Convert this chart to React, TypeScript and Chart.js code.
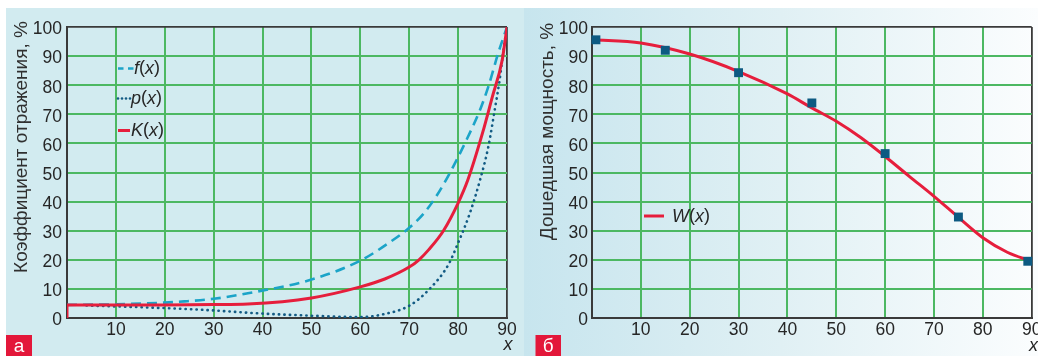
import React, { useEffect, useRef } from 'react';
import { Chart, registerables } from 'chart.js';
Chart.register(...registerables);

// ---- data ----
const xTickStep = 10;
const xMax = 90;
const yMax = 100;
const yTickStep = 10;

// panel а
const kX = [0, 0, 10, 20, 30, 37, 50, 60, 65, 70, 72, 74, 77, 80, 82, 85, 87, 89, 90];
const kY = [0, 4.5, 4.5, 4.5, 4.6, 4.8, 6.9, 10.7, 13.4, 17.5, 20.0, 23.5, 30.0, 39.5, 47.5, 63.6, 76.0, 88.5, 100];
const fX = [0, 10, 20, 24, 30, 37, 50, 60, 66, 70, 73, 75.6, 78.3, 81.4, 84.5, 86.2, 88.2, 90];
const fY = [4.5, 4.7, 5.3, 5.7, 6.6, 8.5, 13.2, 19.7, 26.0, 31.0, 36.0, 42.0, 49.8, 60.1, 71.6, 79.6, 91, 100];
const pX = [4, 20, 30, 38, 50, 60, 65, 70, 74, 78, 80, 82.4, 84.5, 86.2, 87.5, 88.5, 89.2, 90];
const pY = [4.3, 3.4, 2.6, 1.7, 0.8, 0.3, 1.4, 4.2, 9.7, 18.3, 25.8, 36, 47.5, 59, 71.6, 81.9, 91, 100];

// panel б
const wX = [0, 10, 20, 30, 40, 45, 50, 55, 60, 65, 70, 75, 80, 85, 90];
const wY = [95.6, 94.5, 90.7, 84.7, 77, 72.2, 67.6, 62.0, 55.5, 48.6, 41.8, 34.6, 27.6, 22.6, 19.5];
const wPtX = [0.8, 15, 30, 45, 60, 75, 89.2];
const wPtY = [95.6, 92, 84.3, 73.9, 56.5, 34.7, 19.5];

const leftTitle = 'Коэффициент отражения, %';
const rightTitle = 'Дошедшая мощность, %';

const FONT = '"Liberation Sans", Arial, Helvetica, sans-serif';
const RED = '#e61e3c';
const CYAN = '#1ba4c8';
const DOT = '#135b84';
const SQ = '#0d5a82';
const GRID = '#4cb862';
const FRAME = '#3a3a3a';
const TXT = '#262626';

const pts = (xs: number[], ys: number[]) => xs.map((x, i) => ({ x, y: ys[i] }));

function richLabel(ctx: CanvasRenderingContext2D, x: number, y: number, letter: string, size: number) {
  const it = `italic ${size}px ${FONT}`;
  const up = `${size}px ${FONT}`;
  const parts: [string, string][] = [[letter, it], ['(', up], ['x', it], [')', up]];
  let cx = x;
  ctx.textAlign = 'left';
  ctx.textBaseline = 'middle';
  ctx.fillStyle = TXT;
  for (const [t, f] of parts) {
    ctx.font = f;
    ctx.fillText(t, cx, y);
    cx += ctx.measureText(t).width;
  }
}

function vTitle(ctx: CanvasRenderingContext2D, text: string, cx: number, yTop: number, yBottom: number) {
  const target = yBottom - yTop;
  ctx.font = `17px ${FONT}`;
  const w = ctx.measureText(text).width;
  const size = Math.min(19, (17 * target) / w);
  ctx.save();
  ctx.translate(cx, (yTop + yBottom) / 2);
  ctx.rotate(-Math.PI / 2);
  ctx.font = `${size}px ${FONT}`;
  ctx.fillStyle = '#303030';
  ctx.textAlign = 'center';
  ctx.textBaseline = 'middle';
  ctx.fillText(text, 0, 0);
  ctx.restore();
}

function badge(ctx: CanvasRenderingContext2D, x: number, y: number, w: number, h: number, t: string) {
  ctx.fillStyle = '#e3173a';
  ctx.fillRect(x, y, w, h);
  ctx.fillStyle = '#ffffff';
  ctx.font = `19px ${FONT}`;
  ctx.textAlign = 'center';
  ctx.textBaseline = 'middle';
  ctx.fillText(t, x + w / 2, y + h / 2 + 1);
}

function italicX(ctx: CanvasRenderingContext2D, cx: number, cy: number) {
  ctx.font = `italic 18px ${FONT}`;
  ctx.fillStyle = TXT;
  ctx.textAlign = 'center';
  ctx.textBaseline = 'middle';
  ctx.fillText('x', cx, cy);
}

function makeScales(yWidth: number, yPad: number) {
  return {
    x: {
      type: 'linear',
      min: 0,
      max: xMax,
      afterFit(s: any) { s.height = 38; s.paddingLeft = 0; s.paddingRight = 0; },
      grid: {
        color: (c: any) => (c.tick && c.tick.value === xMax ? FRAME : GRID),
        lineWidth: (c: any) => (c.tick && c.tick.value === xMax ? 1.8 : 2),
        drawTicks: false,
      },
      border: { display: true, color: FRAME, width: 2 },
      ticks: {
        stepSize: xTickStep,
        padding: 2,
        color: TXT,
        font: { family: FONT, size: 17.5 },
        callback: (v: number) => (v === 0 ? '' : String(v)),
        labelOffset: (c: any) => (c.tick && c.tick.value === 90 ? -4 : c.tick && c.tick.value === 80 ? -2 : 0),
        maxRotation: 0,
        autoSkip: false,
      },
    },
    y: {
      min: 0,
      max: yMax,
      afterFit(s: any) { s.width = yWidth; s.paddingTop = 0; s.paddingBottom = 0; },
      grid: {
        color: (c: any) => (c.tick && c.tick.value === yMax ? FRAME : GRID),
        lineWidth: (c: any) => (c.tick && c.tick.value === yMax ? 1.8 : 2),
        drawTicks: false,
      },
      border: { display: true, color: FRAME, width: 2 },
      ticks: {
        stepSize: yTickStep,
        padding: yPad,
        color: TXT,
        font: { family: FONT, size: 17.5 },
        labelOffset: 2.5,
        autoSkip: false,
      },
    },
  };
}

export default function App() {
  const leftRef = useRef<HTMLCanvasElement>(null);
  const rightRef = useRef<HTMLCanvasElement>(null);

  useEffect(() => {
    const leftDecor = {
      id: 'leftDecor',
      beforeDraw(chart: any) {
        const { ctx } = chart;
        ctx.save();
        ctx.fillStyle = '#d2ebf0';
        ctx.fillRect(6, 8, chart.width - 6, chart.height - 8);
        ctx.restore();
      },
      afterDraw(chart: any) {
        const { ctx } = chart;
        ctx.save();
        vTitle(ctx, leftTitle, 21.5, 21, 273);
        ctx.lineCap = 'butt';
        ctx.strokeStyle = CYAN;
        ctx.lineWidth = 2.6;
        ctx.beginPath();
        ctx.moveTo(118, 68.5); ctx.lineTo(123.5, 68.5);
        ctx.moveTo(128, 68.5); ctx.lineTo(133.5, 68.5);
        ctx.stroke();
        ctx.fillStyle = DOT;
        for (let i = 0; i < 4; i++) {
          ctx.beginPath();
          ctx.arc(118 + i * 4, 98.5, 1.3, 0, Math.PI * 2);
          ctx.fill();
        }
        ctx.strokeStyle = RED;
        ctx.lineWidth = 3;
        ctx.beginPath();
        ctx.moveTo(118, 130.5); ctx.lineTo(130, 130.5);
        ctx.stroke();
        richLabel(ctx, 134, 68.5, 'f', 18);
        richLabel(ctx, 131, 98.5, 'p', 18);
        richLabel(ctx, 131, 130.5, 'K', 18);
        italicX(ctx, 508, 345);
        badge(ctx, 6, 335, 26, 21, 'а');
        ctx.restore();
      },
    };

    const rightDecor = {
      id: 'rightDecor',
      beforeDraw(chart: any) {
        const { ctx } = chart;
        ctx.save();
        ctx.fillStyle = '#d2ebf0';
        ctx.fillRect(0, 8, 4, chart.height - 8);
        const g = ctx.createLinearGradient(4, 0, 518, 0);
        g.addColorStop(0, '#c7e5ee');
        g.addColorStop(0.5, '#e0f0f4');
        g.addColorStop(1, '#fbfdfe');
        ctx.fillStyle = g;
        ctx.fillRect(4, 8, chart.width - 4, chart.height - 8);
        ctx.restore();
      },
      afterDraw(chart: any) {
        const { ctx } = chart;
        ctx.save();
        vTitle(ctx, rightTitle, 27.5, 21, 242);
        ctx.strokeStyle = RED;
        ctx.lineWidth = 3;
        ctx.beginPath();
        ctx.moveTo(124, 216); ctx.lineTo(144, 216);
        ctx.stroke();
        richLabel(ctx, 152, 216.5, 'W', 18);
        italicX(ctx, 513.5, 346);
        badge(ctx, 15.5, 335, 25.5, 21, 'б');
        ctx.restore();
      },
    };

    const common = {
      responsive: false,
      animation: false,
      events: [],
      plugins: { legend: { display: false }, tooltip: { enabled: false } },
    };

    const left = new Chart(leftRef.current!, {
      type: 'line',
      data: {
        datasets: [
          { data: pts(kX, kY), borderColor: RED, borderWidth: 3, pointRadius: 0, cubicInterpolationMode: 'monotone' },
          { data: pts(fX, fY), borderColor: CYAN, borderWidth: 2.6, borderDash: [10, 6], pointRadius: 0, cubicInterpolationMode: 'monotone' },
          { data: pts(pX, pY), borderColor: DOT, borderWidth: 2.6, borderDash: [0.3, 5.2], borderCapStyle: 'round', pointRadius: 0, cubicInterpolationMode: 'monotone' },
        ],
      } as any,
      options: {
        ...common,
        layout: { padding: { left: 0, top: 27, right: 13, bottom: 0 } },
        scales: makeScales(67, 5),
      } as any,
      plugins: [leftDecor],
    });

    const right = new Chart(rightRef.current!, {
      type: 'line',
      data: {
        datasets: [
          { data: pts(wPtX, wPtY), showLine: false, pointStyle: 'rect', pointRadius: 6.3, pointBackgroundColor: SQ, pointBorderWidth: 0, borderColor: SQ, clip: false },
          { data: pts(wX, wY), borderColor: RED, borderWidth: 3, pointRadius: 0, cubicInterpolationMode: 'monotone' },
        ],
      } as any,
      options: {
        ...common,
        layout: { padding: { left: 0, top: 27, right: 6, bottom: 0 } },
        scales: makeScales(72, 4),
      } as any,
      plugins: [rightDecor],
    });

    return () => {
      left.destroy();
      right.destroy();
    };
  }, []);

  return (
    <div style={{ position: 'absolute', left: 0, top: 0, width: 1038, height: 356, overflow: 'hidden', background: '#ffffff' }}>
      <canvas ref={leftRef} width={520} height={356} style={{ position: 'absolute', left: 0, top: 0, width: 520, height: 356 }} />
      <canvas ref={rightRef} width={518} height={356} style={{ position: 'absolute', left: 520, top: 0, width: 518, height: 356 }} />
    </div>
  );
}
